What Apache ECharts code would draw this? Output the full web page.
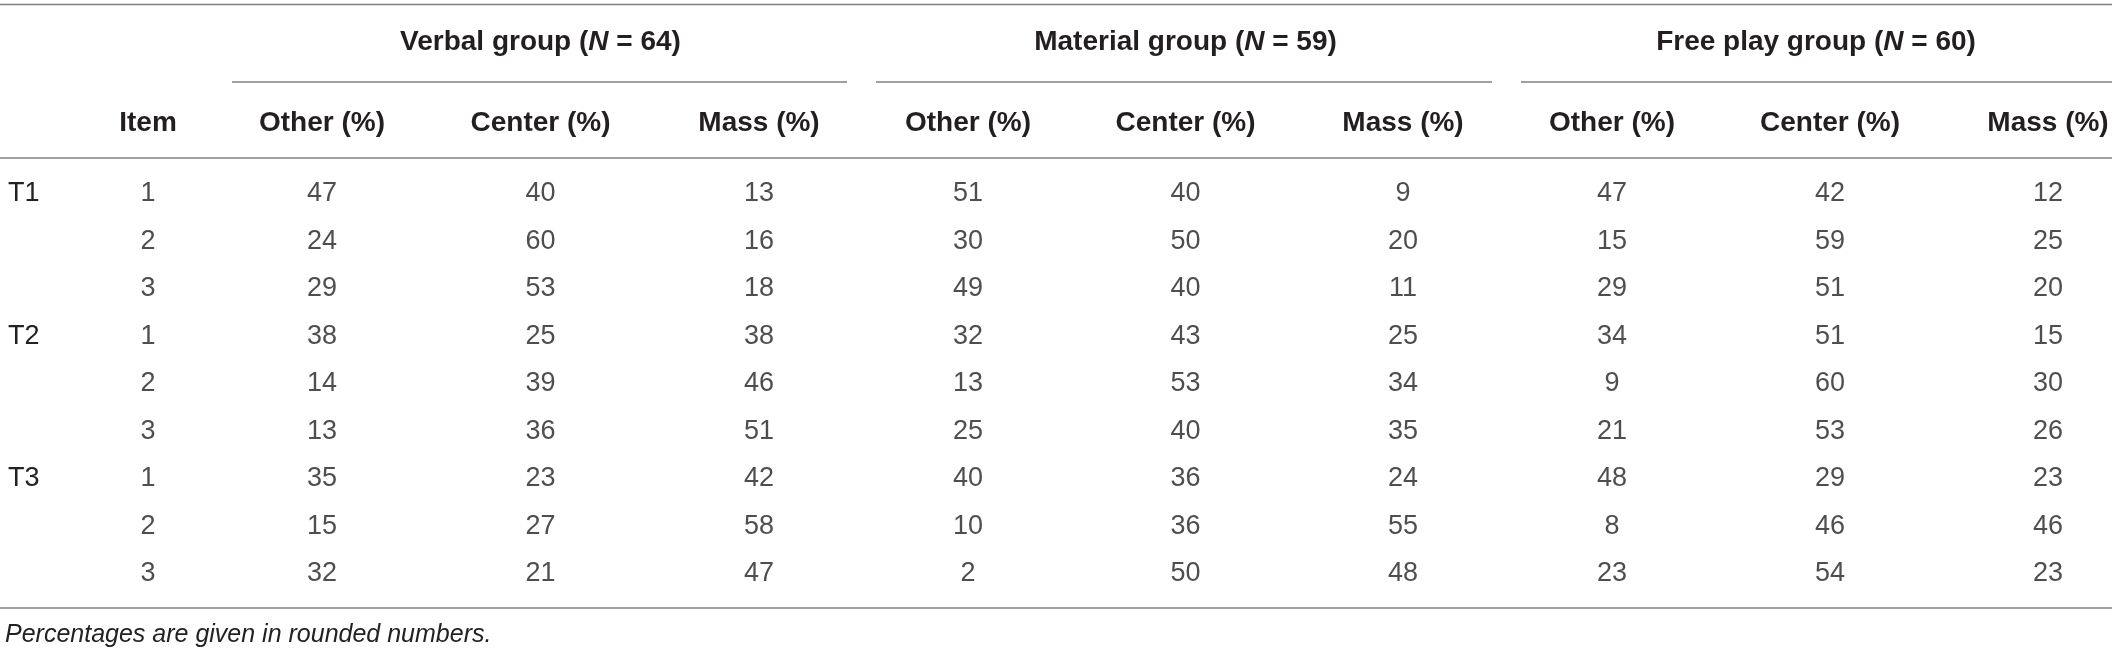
<!DOCTYPE html>
<html>
<head>
<meta charset="utf-8">
<script src="https://cdn.jsdelivr.net/npm/echarts@6/dist/echarts.min.js"></script>
<style>
  html, body { margin: 0; padding: 0; background: #fff; }
  #chart { width: 2118px; height: 657px; }
</style>
</head>
<body>
<div id="chart"></div>
<script>
// table content
const timePoints = ['T1', 'T2', 'T3'];
const itemNumbers = [1, 2, 3];
const columnLabels = ['Other (%)', 'Center (%)', 'Mass (%)'];
const groupNames = ['Verbal group', 'Material group', 'Free play group'];
const groupSizes = [64, 59, 60];

const verbalOther = [47, 24, 29, 38, 14, 13, 35, 15, 32];
const verbalCenter = [40, 60, 53, 25, 39, 36, 23, 27, 21];
const verbalMass = [13, 16, 18, 38, 46, 51, 42, 58, 47];

const materialOther = [51, 30, 49, 32, 13, 25, 40, 10, 2];
const materialCenter = [40, 50, 40, 43, 53, 40, 36, 36, 50];
const materialMass = [9, 20, 11, 25, 34, 35, 24, 55, 48];

const freeOther = [47, 15, 29, 34, 9, 21, 48, 8, 23];
const freeCenter = [42, 59, 51, 51, 60, 53, 29, 46, 54];
const freeMass = [12, 25, 20, 15, 30, 26, 23, 46, 23];

const footnote = 'Percentages are given in rounded numbers.';

// layout
const FONT = '"Liberation Sans", Arial, Helvetica, sans-serif';
const TEXT = '#231f20';
const RULE = '#808080';
const rowTop = 194, rowSpan = 380;
const groupGrids = [
  { left: 322, width: 437, line: [232, 847], titleShift: 0 },
  { left: 968, width: 435, line: [876, 1492], titleShift: 0 },
  { left: 1612, width: 436, line: [1521, 2112], titleShift: 28 }
];

const rows = [];
timePoints.forEach(t => itemNumbers.forEach(i => rows.push({ t: t, i: i })));
const rowKeys = rows.map(r => r.t + '-' + r.i);
const groupColumns = [
  [verbalOther, verbalCenter, verbalMass],
  [materialOther, materialCenter, materialMass],
  [freeOther, freeCenter, freeMass]
];

const cellLabel = {
  show: true,
  position: 'inside',
  formatter: p => String(p.value[2]),
  fontFamily: FONT,
  fontSize: 27,
  color: '#222'
};

const grid = [{ left: 118, width: 60, top: rowTop, height: rowSpan }];
const xAxis = [{
  gridIndex: 0,
  type: 'category',
  position: 'top',
  data: ['Item'],
  axisLine: { show: false },
  axisTick: { show: false },
  axisLabel: {
    margin: 71, verticalAlign: 'middle',
    fontFamily: FONT, fontSize: 28, fontWeight: 'bold', color: TEXT
  }
}];
const yAxis = [{
  gridIndex: 0,
  type: 'category',
  inverse: true,
  boundaryGap: false,
  data: rowKeys,
  axisLine: { show: false },
  axisTick: { show: false },
  splitLine: { show: false },
  axisLabel: {
    interval: 0,
    margin: 110,
    align: 'left',
    formatter: (v, idx) => rows[idx].i === 1 ? rows[idx].t : '',
    fontFamily: FONT, fontSize: 27, color: '#222'
  }
}];
const series = [{
  type: 'scatter',
  xAxisIndex: 0,
  yAxisIndex: 0,
  symbolSize: 1,
  itemStyle: { color: 'rgba(0,0,0,0)' },
  silent: true,
  label: cellLabel,
  data: rows.map((r, k) => [0, k, r.i])
}];

groupGrids.forEach((g, gi) => {
  const idx = gi + 1;
  grid.push({ left: g.left, width: g.width, top: rowTop, height: rowSpan });
  xAxis.push({
    gridIndex: idx,
    type: 'category',
    position: 'top',
    boundaryGap: false,
    data: columnLabels,
    axisLine: { show: false },
    axisTick: { show: false },
    axisLabel: {
      interval: 0, margin: 71, verticalAlign: 'middle',
      fontFamily: FONT, fontSize: 28, fontWeight: 'bold', color: TEXT
    },
    name: '{b|' + groupNames[gi] + ' (}{i|N}{b| = ' + groupSizes[gi] + ')}',
    nameLocation: 'middle',
    nameGap: rowTop - 42,
    nameTextStyle: {
      verticalAlign: 'middle',
      padding: [0, g.titleShift, 0, 0],
      rich: {
        b: { fontFamily: FONT, fontSize: 28, fontWeight: 'bold', color: TEXT },
        i: { fontFamily: FONT, fontSize: 28, fontWeight: 'bold', fontStyle: 'italic', color: TEXT }
      }
    }
  });
  yAxis.push({
    gridIndex: idx,
    type: 'category',
    inverse: true,
    boundaryGap: false,
    data: rowKeys,
    show: false
  });
  const data = [];
  groupColumns[gi].forEach((col, c) => col.forEach((v, r) => data.push([c, r, v])));
  series.push({
    type: 'scatter',
    xAxisIndex: idx,
    yAxisIndex: idx,
    symbolSize: 1,
    itemStyle: { color: 'rgba(0,0,0,0)' },
    silent: true,
    label: cellLabel,
    data: data
  });
});

const hline = (x1, x2, y) => ({
  type: 'line',
  silent: true,
  shape: { x1: x1, y1: y, x2: x2, y2: y },
  style: { stroke: RULE, lineWidth: 1.6 }
});

const graphic = [
  hline(0, 2112, 4.5),
  hline(0, 2112, 158),
  hline(0, 2112, 608)
].concat(groupGrids.map(g => hline(g.line[0], g.line[1], 82)));
graphic.push({
  type: 'text',
  left: 5,
  top: 623,
  silent: true,
  style: {
    text: footnote,
    fontFamily: FONT,
    fontSize: 25,
    fontStyle: 'italic',
    fill: '#222'
  }
});

const chart = echarts.init(document.getElementById('chart'), null, { renderer: 'canvas' });
chart.setOption({
  animation: false,
  backgroundColor: '#fff',
  grid: grid,
  xAxis: xAxis,
  yAxis: yAxis,
  series: series,
  graphic: graphic
});
</script>
</body>
</html>
